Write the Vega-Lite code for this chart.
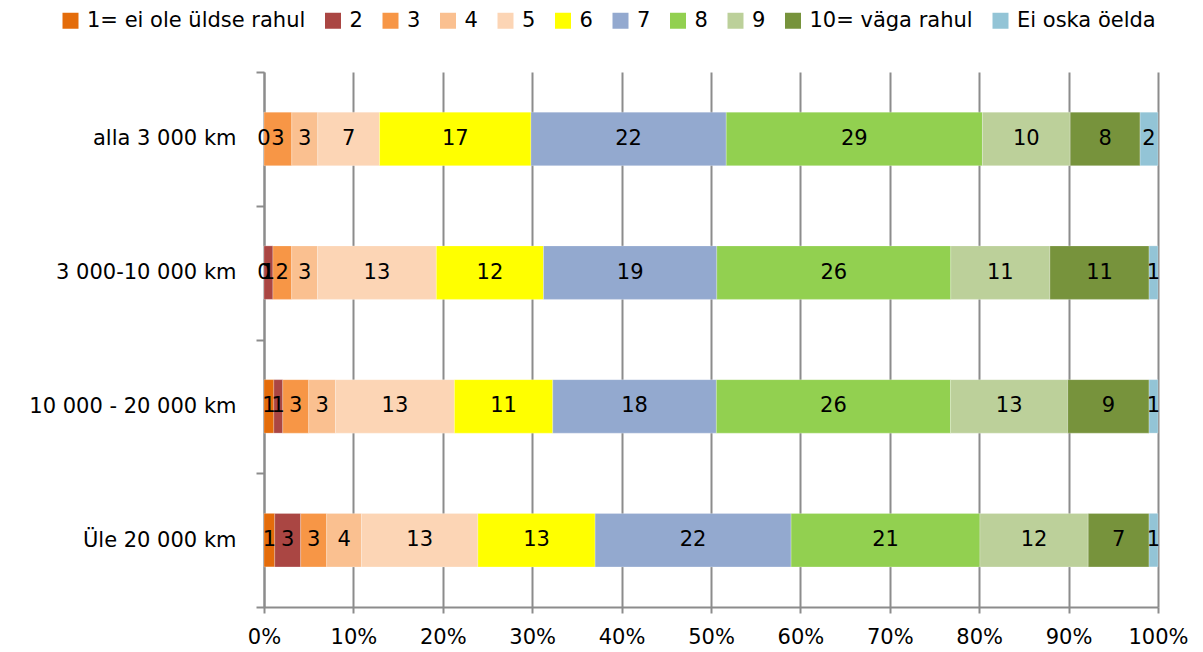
{
  "$schema": "https://vega.github.io/schema/vega-lite/v6.json",
  "width": 894,
  "height": 535,
  "autosize": {"type": "none"},
  "padding": {"left": 264, "top": 72, "right": 45, "bottom": 45},
  "background": "white",
  "config": {
    "font": "DejaVu Sans",
    "view": {"stroke": null}
  },
  "data": {
    "values": [
      {"kat": "alla 3 000 km", "hinne": "1= ei ole üldse rahul", "ord": 1, "v": 0},
      {"kat": "alla 3 000 km", "hinne": "3", "ord": 3, "v": 3.1},
      {"kat": "alla 3 000 km", "hinne": "4", "ord": 4, "v": 2.9},
      {"kat": "alla 3 000 km", "hinne": "5", "ord": 5, "v": 6.9},
      {"kat": "alla 3 000 km", "hinne": "6", "ord": 6, "v": 16.9},
      {"kat": "alla 3 000 km", "hinne": "7", "ord": 7, "v": 21.8},
      {"kat": "alla 3 000 km", "hinne": "8", "ord": 8, "v": 28.6},
      {"kat": "alla 3 000 km", "hinne": "9", "ord": 9, "v": 9.8},
      {"kat": "alla 3 000 km", "hinne": "10= väga rahul", "ord": 10, "v": 7.8},
      {"kat": "alla 3 000 km", "hinne": "Ei oska öelda", "ord": 11, "v": 2.0},

      {"kat": "3 000-10 000 km", "hinne": "1= ei ole üldse rahul", "ord": 1, "v": 0},
      {"kat": "3 000-10 000 km", "hinne": "2", "ord": 2, "v": 1.0},
      {"kat": "3 000-10 000 km", "hinne": "3", "ord": 3, "v": 2.1},
      {"kat": "3 000-10 000 km", "hinne": "4", "ord": 4, "v": 2.9},
      {"kat": "3 000-10 000 km", "hinne": "5", "ord": 5, "v": 13.3},
      {"kat": "3 000-10 000 km", "hinne": "6", "ord": 6, "v": 12.0},
      {"kat": "3 000-10 000 km", "hinne": "7", "ord": 7, "v": 19.4},
      {"kat": "3 000-10 000 km", "hinne": "8", "ord": 8, "v": 26.2},
      {"kat": "3 000-10 000 km", "hinne": "9", "ord": 9, "v": 11.1},
      {"kat": "3 000-10 000 km", "hinne": "10= väga rahul", "ord": 10, "v": 11.1},
      {"kat": "3 000-10 000 km", "hinne": "Ei oska öelda", "ord": 11, "v": 1.0},

      {"kat": "10 000 - 20 000 km", "hinne": "1= ei ole üldse rahul", "ord": 1, "v": 1.1},
      {"kat": "10 000 - 20 000 km", "hinne": "2", "ord": 2, "v": 1.0},
      {"kat": "10 000 - 20 000 km", "hinne": "3", "ord": 3, "v": 2.9},
      {"kat": "10 000 - 20 000 km", "hinne": "4", "ord": 4, "v": 3.0},
      {"kat": "10 000 - 20 000 km", "hinne": "5", "ord": 5, "v": 13.3},
      {"kat": "10 000 - 20 000 km", "hinne": "6", "ord": 6, "v": 11.0},
      {"kat": "10 000 - 20 000 km", "hinne": "7", "ord": 7, "v": 18.3},
      {"kat": "10 000 - 20 000 km", "hinne": "8", "ord": 8, "v": 26.2},
      {"kat": "10 000 - 20 000 km", "hinne": "9", "ord": 9, "v": 13.1},
      {"kat": "10 000 - 20 000 km", "hinne": "10= väga rahul", "ord": 10, "v": 9.1},
      {"kat": "10 000 - 20 000 km", "hinne": "Ei oska öelda", "ord": 11, "v": 1.0},

      {"kat": "Üle 20 000 km", "hinne": "1= ei ole üldse rahul", "ord": 1, "v": 1.2},
      {"kat": "Üle 20 000 km", "hinne": "2", "ord": 2, "v": 2.9},
      {"kat": "Üle 20 000 km", "hinne": "3", "ord": 3, "v": 2.9},
      {"kat": "Üle 20 000 km", "hinne": "4", "ord": 4, "v": 3.9},
      {"kat": "Üle 20 000 km", "hinne": "5", "ord": 5, "v": 13.0},
      {"kat": "Üle 20 000 km", "hinne": "6", "ord": 6, "v": 13.1},
      {"kat": "Üle 20 000 km", "hinne": "7", "ord": 7, "v": 21.9},
      {"kat": "Üle 20 000 km", "hinne": "8", "ord": 8, "v": 21.1},
      {"kat": "Üle 20 000 km", "hinne": "9", "ord": 9, "v": 12.1},
      {"kat": "Üle 20 000 km", "hinne": "10= väga rahul", "ord": 10, "v": 6.8},
      {"kat": "Üle 20 000 km", "hinne": "Ei oska öelda", "ord": 11, "v": 1.0}
    ]
  },
  "transform": [
    {"stack": "v", "groupby": ["kat"], "sort": [{"field": "ord", "order": "ascending"}], "offset": "normalize", "as": ["x0", "x1"]},
    {"calculate": "(datum.x0 + datum.x1) / 2", "as": "xm"}
  ],
  "encoding": {
    "y": {
      "field": "kat",
      "type": "nominal",
      "sort": ["alla 3 000 km", "3 000-10 000 km", "10 000 - 20 000 km", "Üle 20 000 km"],
      "scale": {"paddingInner": 0, "paddingOuter": 0},
      "axis": {
        "title": null,
        "tickBand": "extent",
        "ticks": true,
        "tickSize": 8,
        "tickColor": "#8c8c8c",
        "tickWidth": 2,
        "domainColor": "#8c8c8c",
        "domainWidth": 2,
        "labelFont": "DejaVu Sans",
        "labelFontSize": 21,
        "labelColor": "#000000",
        "labelPadding": 20,
        "labelLimit": 300,
        "grid": false
      }
    }
  },
  "layer": [
    {
      "mark": {"type": "bar", "height": {"band": 0.4}, "stroke": "white", "strokeWidth": 0.4, "strokeOpacity": 0.6},
      "encoding": {
        "x": {
          "field": "x0",
          "type": "quantitative",
          "scale": {"domain": [0, 1], "nice": false},
          "axis": {
            "title": null,
            "format": ".0%",
            "values": [0, 0.1, 0.2, 0.3, 0.4, 0.5, 0.6, 0.7, 0.8, 0.9, 1],
            "labelOverlap": false,
            "grid": true,
            "gridColor": "#8c8c8c",
            "gridWidth": 2,
            "domainColor": "#8c8c8c",
            "domainWidth": 2,
            "tickColor": "#8c8c8c",
            "tickWidth": 2,
            "tickSize": 6,
            "labelFont": "DejaVu Sans",
            "labelFontSize": 21,
            "labelColor": "#000000",
            "labelPadding": 13,
            "labelFlush": false
          }
        },
        "x2": {"field": "x1"},
        "color": {
          "field": "hinne",
          "type": "nominal",
          "scale": {
            "domain": ["1= ei ole üldse rahul", "2", "3", "4", "5", "6", "7", "8", "9", "10= väga rahul", "Ei oska öelda"],
            "range": ["#E46C0A", "#AA4643", "#F79646", "#FAC090", "#FCD5B5", "#FFFF00", "#93A9CF", "#92D050", "#BCD09A", "#77933C", "#93C4D6"]
          },
          "legend": {
            "title": null,
            "orient": "none",
            "direction": "horizontal",
            "legendX": -204,
            "legendY": -62,
            "symbolType": "square",
            "symbolSize": 256,
            "symbolStrokeWidth": 0,
            "labelFont": "DejaVu Sans",
            "labelFontSize": 21,
            "labelColor": "#000000",
            "labelOffset": 6,
            "columnPadding": 16.5,
            "labelLimit": 300
          }
        }
      }
    },
    {
      "mark": {"type": "text", "fontSize": 21, "font": "DejaVu Sans", "color": "#000000", "baseline": "middle", "align": "center"},
      "encoding": {
        "x": {"field": "xm", "type": "quantitative"},
        "text": {"field": "v", "type": "quantitative", "format": ".0f"}
      }
    }
  ]
}
